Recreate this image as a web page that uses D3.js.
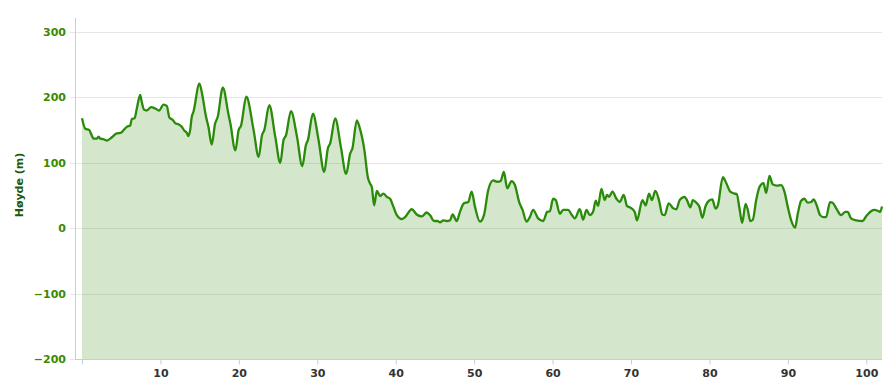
<!DOCTYPE html>
<html>
<head>
<meta charset="utf-8">
<script src="https://cdn.jsdelivr.net/npm/d3@7"></script>
<style>
  body { margin: 0; background: #fff; }
  svg { display: block; }
</style>
</head>
<body>
<div id="chart"></div>
<script>
// Distance along the route (km) and elevation (m)
var distKm = [0, 0.42, 0.93, 1.13, 1.48, 1.90, 2.11, 2.33, 2.75, 3.17, 3.81, 4.44, 5.00, 5.30, 5.72, 6.15, 6.35, 6.70, 6.99, 7.42,
  7.62, 7.93, 8.26, 8.82, 9.33, 9.84, 10.39, 10.81, 11.15, 11.53, 11.95, 12.30, 12.72, 13.06, 13.35, 13.57, 13.79, 13.99, 14.21, 14.97,
  15.35, 15.77, 16.12, 16.54, 16.97, 17.30, 17.96, 18.66, 18.92, 19.55, 19.97, 20.28, 20.95, 21.88, 22.52, 22.95, 23.24, 23.88, 24.64, 25.28,
  25.70, 26.01, 26.64, 27.41, 28.08, 28.55, 28.81, 29.44, 30.16, 30.88, 31.35, 31.65, 32.28, 33.01, 33.68, 34.19, 34.48, 35.04, 35.37, 36.01,
  36.44, 36.74, 36.95, 37.25, 37.59, 38.01, 38.43, 38.86, 39.28, 39.70, 40.14, 40.77, 41.19, 42.04, 42.68, 43.32, 43.95, 44.37, 44.88, 45.30,
  45.65, 46.07, 46.50, 46.92, 47.26, 47.77, 48.19, 48.70, 49.25, 49.68, 50.10, 50.74, 51.25, 51.79, 52.43, 52.94, 53.37, 53.79, 54.21, 54.77,
  55.19, 55.74, 56.17, 56.68, 57.10, 57.52, 58.16, 58.80, 59.31, 59.65, 60.07, 60.41, 60.92, 61.34, 61.98, 62.41, 62.83, 63.47, 63.89, 64.32,
  64.74, 65.16, 65.50, 65.80, 66.23, 66.65, 66.94, 67.20, 67.63, 68.14, 68.56, 69.07, 69.49, 69.83, 70.47, 70.76, 71.45, 71.87, 72.29, 72.67,
  73.10, 73.56, 73.99, 74.29, 74.80, 75.43, 75.78, 76.20, 76.83, 77.13, 77.56, 77.89, 78.32, 78.74, 79.09, 79.51, 79.93, 80.36, 80.78, 81.07,
  81.71, 82.14, 82.65, 83.20, 83.49, 83.83, 84.18, 84.60, 84.89, 85.20, 85.53, 85.96, 86.38, 86.89, 87.23, 87.65, 88.07, 88.58, 89.14, 89.56,
  89.98, 90.42, 90.92, 91.26, 91.69, 92.11, 92.53, 92.96, 93.29, 93.67, 94.11, 94.53, 94.87, 95.38, 95.71, 96.22, 96.78, 97.33, 97.62, 98.05,
  98.69, 99.53, 99.96, 100.60, 101.02, 101.57, 101.78, 102.00];

var elevM = [168, 152, 150, 145, 137, 137, 140, 137, 136, 134, 139, 145, 146, 150, 155, 157, 167, 168, 183, 204,
  193, 181, 180, 185, 183, 180, 189, 187, 169, 166, 160, 159, 155, 149, 146, 141, 150, 170, 178, 221,
  203, 173, 155, 128, 160, 170, 215, 175, 160, 119, 150, 157, 201, 150, 109, 142, 150, 188, 140, 100,
  135, 142, 179, 140, 95, 127, 135, 175, 135, 86, 122, 130, 168, 124, 83, 114, 122, 165, 155, 119,
  78, 68, 63, 35, 57, 49, 53, 48, 45, 33, 20, 14, 17, 29, 21, 18, 24, 20, 11, 11,
  9, 12, 11, 12, 21, 11, 25, 38, 40, 56, 33, 10, 20, 58, 73, 71, 72, 86, 61, 72,
  66, 40, 28, 10, 17, 28, 15, 11, 25, 26, 45, 43, 22, 28, 28, 21, 15, 29, 13, 28,
  20, 25, 42, 34, 60, 43, 51, 48, 56, 45, 40, 51, 34, 32, 25, 12, 43, 35, 53, 43,
  57, 43, 21, 20, 38, 30, 29, 43, 48, 43, 32, 43, 39, 32, 16, 34, 42, 44, 30, 35,
  78, 69, 56, 53, 52, 30, 8, 37, 28, 11, 13, 43, 63, 69, 54, 80, 67, 65, 66, 56,
  33, 12, 1, 22, 42, 45, 39, 40, 44, 35, 20, 17, 17, 40, 39, 29, 20, 25, 25, 15,
  12, 11, 18, 26, 28, 26, 25, 33];

var xTicks = [0, 10, 20, 30, 40, 50, 60, 70, 80, 90, 100];
var yTicks = [-200, -100, 0, 100, 200, 300];
var yTitle = "Høyde (m)";

var data = distKm.map(function(d, i) { return { km: d, m: elevM[i] }; });

var width = 891, height = 384;
var plotLeft = 75, plotRight = 882, plotTop = 32, plotBottom = 359;

var svg = d3.select("#chart").append("svg")
  .attr("width", width)
  .attr("height", height);

var x = d3.scaleLinear().domain([0, 102]).range([82, plotRight]);
var y = d3.scaleLinear().domain([-200, 300]).range([plotBottom, plotTop]);

// Grid lines
svg.append("g")
  .selectAll("line")
  .data(yTicks)
  .enter()
  .append("line")
  .attr("x1", plotLeft - 5)
  .attr("x2", plotRight)
  .attr("y1", function(d) { return Math.round(y(d)) + 0.5; })
  .attr("y2", function(d) { return Math.round(y(d)) + 0.5; })
  .attr("stroke", "#e6e6e6")
  .attr("stroke-width", 1);

// Area + line
var area = d3.area()
  .x(function(d) { return x(d.km); })
  .y0(y(-200))
  .y1(function(d) { return y(d.m); })
  .curve(d3.curveMonotoneX);

var line = d3.line()
  .x(function(d) { return x(d.km); })
  .y(function(d) { return y(d.m); })
  .curve(d3.curveMonotoneX);

svg.append("path")
  .datum(data)
  .attr("d", area)
  .attr("fill", "rgb(83,155,47)")
  .attr("fill-opacity", 0.25);

svg.append("path")
  .datum(data)
  .attr("d", line)
  .attr("fill", "none")
  .attr("stroke", "#2a8a0a")
  .attr("stroke-width", 2.3)
  .attr("stroke-linejoin", "round");

// Y axis line
svg.append("line")
  .attr("x1", plotLeft + 0.5).attr("x2", plotLeft + 0.5)
  .attr("y1", 18).attr("y2", plotBottom)
  .attr("stroke", "#c0d0e0");

// Y tick labels
svg.append("g")
  .selectAll("text")
  .data(yTicks)
  .enter()
  .append("text")
  .attr("x", 66)
  .attr("y", function(d) { return y(d) + 4; })
  .attr("text-anchor", "end")
  .attr("font-family", "DejaVu Sans, Verdana, sans-serif")
  .attr("font-size", 11)
  .attr("font-weight", "bold")
  .attr("fill", "#3a8a00")
  .text(function(d) { return d === 0 ? "0" : (d < 0 ? "\u2212" + Math.abs(d) : d); });

// Y axis title
svg.append("text")
  .attr("transform", "translate(23,185) rotate(-90)")
  .attr("text-anchor", "middle")
  .attr("font-family", "DejaVu Sans, Verdana, sans-serif")
  .attr("font-size", 11)
  .attr("font-weight", "bold")
  .attr("fill", "#1d5a0c")
  .text(yTitle);

// X axis
var xAxis = d3.axisBottom(x)
  .tickValues(xTicks)
  .tickSize(5)
  .tickFormat(function(d) { return d === 0 ? "" : d; });

var gx = svg.append("g")
  .attr("transform", "translate(0," + (plotBottom + 0.5) + ")")
  .call(xAxis);

gx.select(".domain").remove();
gx.append("line")
  .attr("x1", plotLeft).attr("x2", plotRight)
  .attr("stroke", "#c0d0e0");
gx.selectAll(".tick line").attr("stroke", "#c0d0e0");
gx.selectAll(".tick text")
  .attr("font-family", "DejaVu Sans, Verdana, sans-serif")
  .attr("font-size", 11)
  .attr("font-weight", "bold")
  .attr("fill", "#333")
  .attr("dy", "0.9em");
</script>
</body>
</html>
